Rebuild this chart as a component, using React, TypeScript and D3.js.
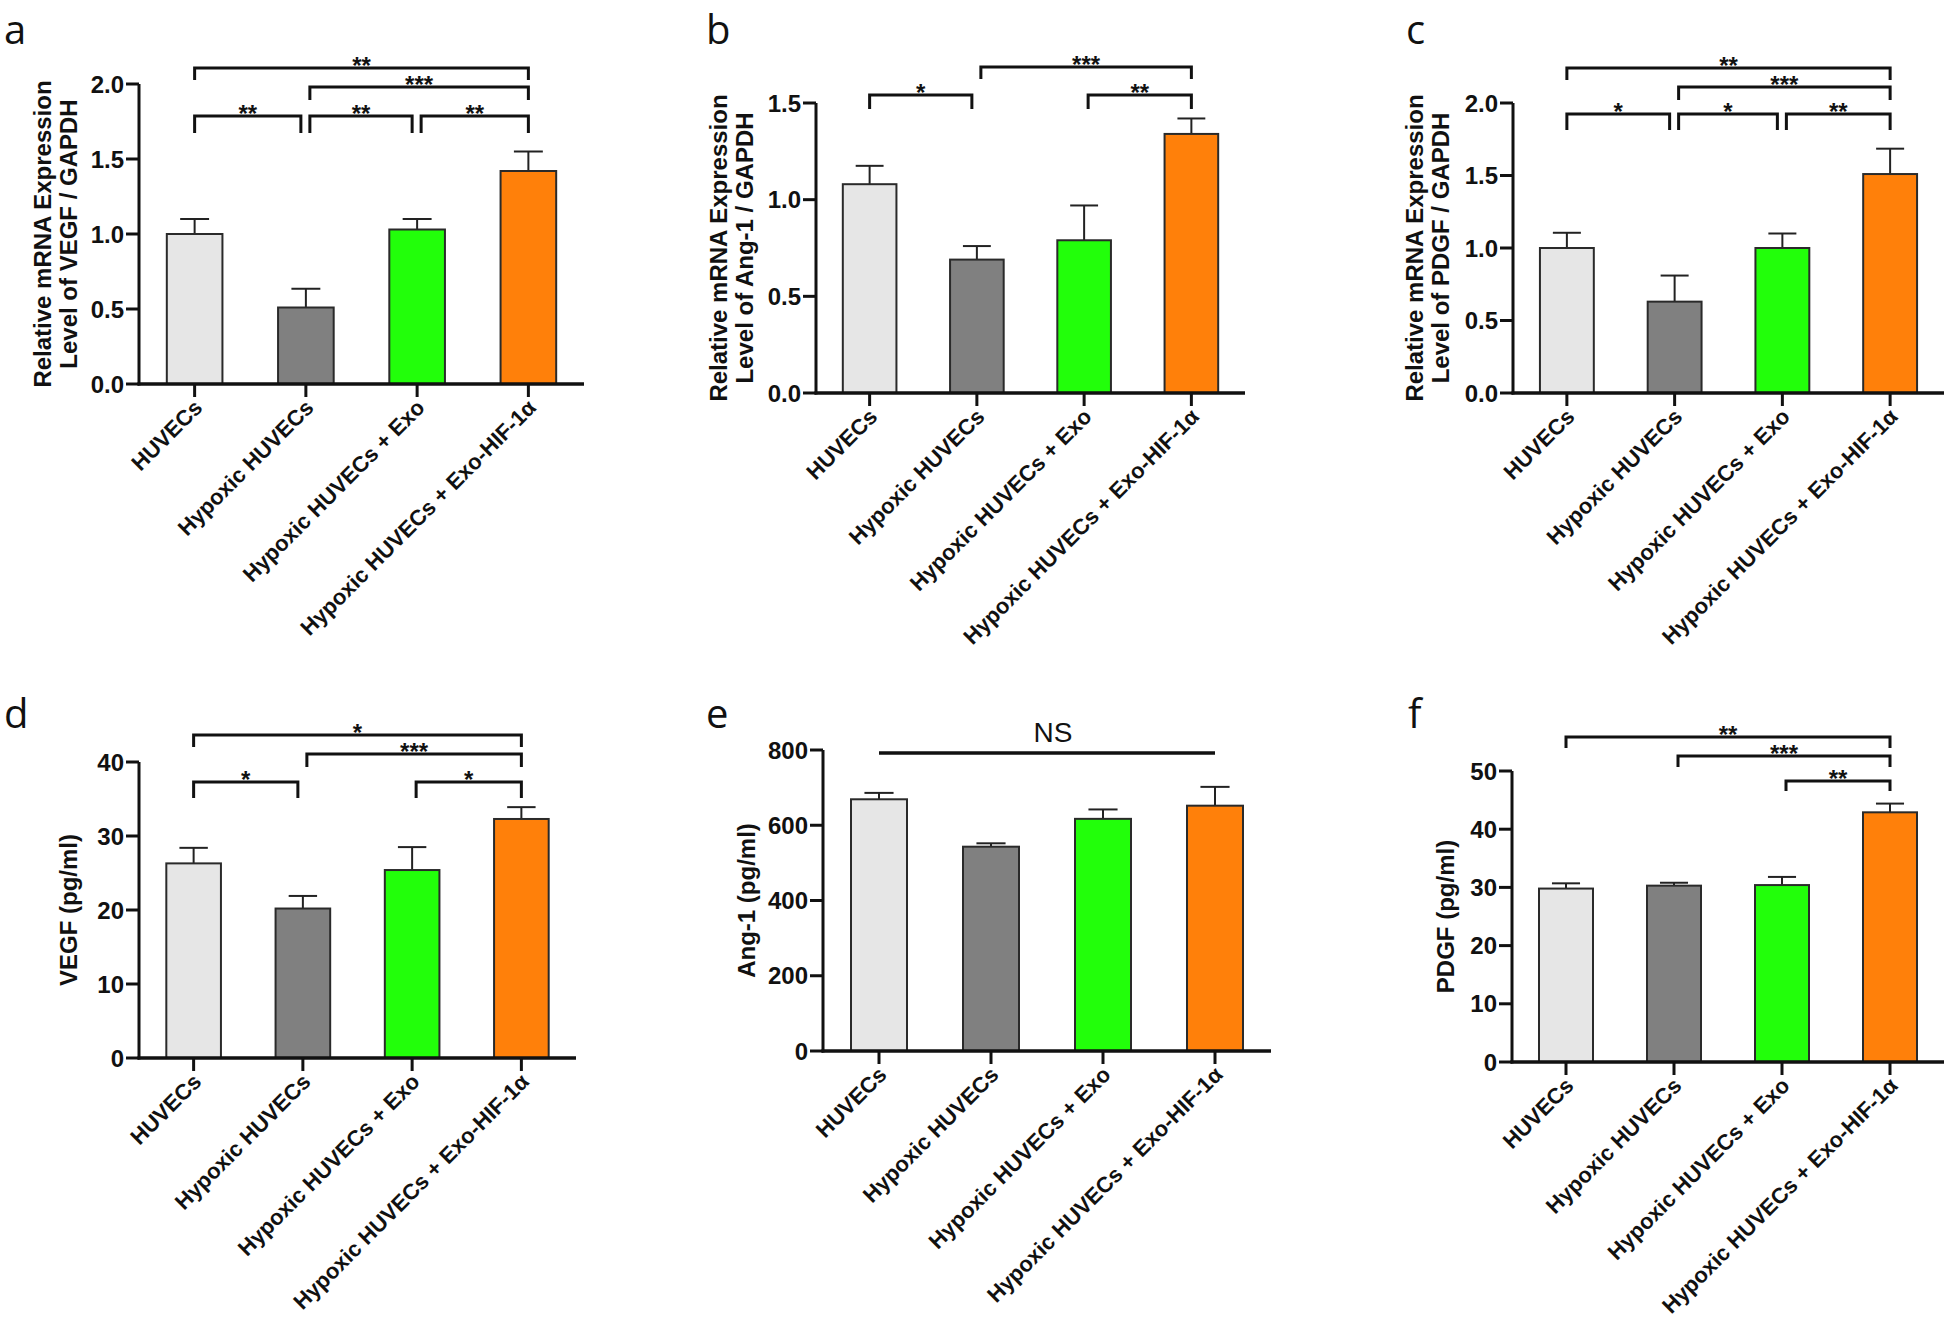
import React from "react";
import * as d3 from "d3";

// ---------- data ----------
const categories = [
  "HUVECs",
  "Hypoxic HUVECs",
  "Hypoxic HUVECs + Exo",
  "Hypoxic HUVECs + Exo-HIF-1α",
];
const barColors = ["#e6e6e6", "#808080", "#22ff0a", "#ff800a"];

// a: VEGF mRNA
const vegfMrnaMean = [1.0, 0.51, 1.03, 1.42];
const vegfMrnaErr = [0.1, 0.125, 0.07, 0.13];
const vegfMrnaTicks = [0, 0.5, 1.0, 1.5, 2.0];
// b: Ang-1 mRNA
const ang1MrnaMean = [1.08, 0.69, 0.79, 1.34];
const ang1MrnaErr = [0.095, 0.07, 0.18, 0.08];
const ang1MrnaTicks = [0, 0.5, 1.0, 1.5];
// c: PDGF mRNA
const pdgfMrnaMean = [1.0, 0.63, 1.0, 1.51];
const pdgfMrnaErr = [0.105, 0.18, 0.1, 0.175];
const pdgfMrnaTicks = [0, 0.5, 1.0, 1.5, 2.0];
// d: VEGF ELISA
const vegfElisaMean = [26.3, 20.2, 25.4, 32.3];
const vegfElisaErr = [2.1, 1.7, 3.1, 1.6];
const vegfElisaTicks = [0, 10, 20, 30, 40];
// e: Ang-1 ELISA
const ang1ElisaMean = [669, 543, 617, 652];
const ang1ElisaErr = [17, 9, 25, 50];
const ang1ElisaTicks = [0, 200, 400, 600, 800];
// f: PDGF ELISA
const pdgfElisaMean = [29.8, 30.3, 30.4, 42.9];
const pdgfElisaErr = [0.9, 0.5, 1.4, 1.5];
const pdgfElisaTicks = [0, 10, 20, 30, 40, 50];

// significance comparisons: [from, to, label]
const sigA: [number, number, string][] = [[0, 3, "**"], [1, 3, "***"], [0, 1, "**"], [1, 2, "**"], [2, 3, "**"]];
const sigB: [number, number, string][] = [[0, 1, "*"], [1, 3, "***"], [2, 3, "**"]];
const sigC: [number, number, string][] = [[0, 3, "**"], [1, 3, "***"], [0, 1, "*"], [1, 2, "*"], [2, 3, "**"]];
const sigD: [number, number, string][] = [[0, 3, "*"], [1, 3, "***"], [0, 1, "*"], [2, 3, "*"]];
const sigE: [number, number, string][] = [[0, 3, "NS"]];
const sigF: [number, number, string][] = [[0, 3, "**"], [1, 3, "***"], [2, 3, "**"]];

// ---------- layout ----------
type Layout = {
  letter: string; letterX: number; letterY: number;
  axisX: number; xEnd: number; yTop: number; yBottom: number;
  yLabel: string[]; yLabelX: number[];
  tickFmt: (v: number) => string;
  bracketY: number[]; bracketDrop: number[];
  plain?: boolean;
};

const fmt1 = (v: number) => d3.format(".1f")(v);
const fmt0 = (v: number) => d3.format("d")(v);

const panels: { mean: number[]; err: number[]; ticks: number[]; sig: [number, number, string][]; L: Layout }[] = [
  {
    mean: vegfMrnaMean, err: vegfMrnaErr, ticks: vegfMrnaTicks, sig: sigA,
    L: { letter: "a", letterX: 4, letterY: 44, axisX: 139, xEnd: 584, yTop: 84, yBottom: 384,
      yLabel: ["Relative mRNA Expression", "Level of VEGF / GAPDH"], yLabelX: [-88, -62], tickFmt: fmt1,
      bracketY: [68, 87, 116, 116, 116], bracketDrop: [12, 13, 17, 17, 17] },
  },
  {
    mean: ang1MrnaMean, err: ang1MrnaErr, ticks: ang1MrnaTicks, sig: sigB,
    L: { letter: "b", letterX: 706, letterY: 44, axisX: 816, xEnd: 1245, yTop: 103, yBottom: 393,
      yLabel: ["Relative mRNA Expression", "Level of Ang-1 / GAPDH"], yLabelX: [-89, -63], tickFmt: fmt1,
      bracketY: [95, 67, 95], bracketDrop: [14, 12, 14] },
  },
  {
    mean: pdgfMrnaMean, err: pdgfMrnaErr, ticks: pdgfMrnaTicks, sig: sigC,
    L: { letter: "c", letterX: 1406, letterY: 44, axisX: 1513, xEnd: 1944, yTop: 103, yBottom: 393,
      yLabel: ["Relative mRNA Expression", "Level of PDGF / GAPDH"], yLabelX: [-90, -64], tickFmt: fmt1,
      bracketY: [68, 87, 114, 114, 114], bracketDrop: [12, 13, 16, 16, 16] },
  },
  {
    mean: vegfElisaMean, err: vegfElisaErr, ticks: vegfElisaTicks, sig: sigD,
    L: { letter: "d", letterX: 4, letterY: 728, axisX: 139, xEnd: 576, yTop: 762, yBottom: 1058,
      yLabel: ["VEGF (pg/ml)"], yLabelX: [-62], tickFmt: fmt0,
      bracketY: [735, 754, 782, 782], bracketDrop: [12, 13, 16, 16] },
  },
  {
    mean: ang1ElisaMean, err: ang1ElisaErr, ticks: ang1ElisaTicks, sig: sigE,
    L: { letter: "e", letterX: 706, letterY: 728, axisX: 823, xEnd: 1271, yTop: 750, yBottom: 1051,
      yLabel: ["Ang-1 (pg/ml)"], yLabelX: [-68], tickFmt: fmt0,
      bracketY: [753], bracketDrop: [0], plain: true },
  },
  {
    mean: pdgfElisaMean, err: pdgfElisaErr, ticks: pdgfElisaTicks, sig: sigF,
    L: { letter: "f", letterX: 1408, letterY: 728, axisX: 1512, xEnd: 1944, yTop: 771, yBottom: 1062,
      yLabel: ["PDGF (pg/ml)"], yLabelX: [-58], tickFmt: fmt0,
      bracketY: [737, 756, 781], bracketDrop: [11, 11, 10] },
  },
];

const FONT = "'Liberation Sans', Arial, Helvetica, sans-serif";
const INK = "#111";

function Panel({ mean, err, ticks, sig, L }: (typeof panels)[number]) {
  const x = d3.scaleBand<string>().domain(categories).range([L.axisX, L.xEnd]).paddingInner(0.5).paddingOuter(0.25);
  const y = d3.scaleLinear().domain([0, ticks[ticks.length - 1]]).range([L.yBottom, L.yTop]);
  const bw = x.bandwidth();
  const cx = (i: number) => (x(categories[i]) as number) + bw / 2;
  const capW = bw * 0.52;
  const last = categories.length - 1;
  const yMid = (L.yTop + L.yBottom) / 2;

  return (
    <g>
      <text x={L.letterX} y={L.letterY} fontFamily="'Open Sans', 'Noto Sans', sans-serif" fontSize={40} fill="#111">
        {L.letter}
      </text>

      {/* y label */}
      {L.yLabel.map((t, k) => (
        <text key={k} transform={`translate(${L.axisX + L.yLabelX[k]},${yMid}) rotate(-90)`} textAnchor="middle"
          fontFamily={FONT} fontWeight="bold" fontSize={24} fill={INK}>{t}</text>
      ))}

      {/* bars */}
      {mean.map((m, i) => (
        <g key={i}>
          <line x1={cx(i)} x2={cx(i)} y1={y(m)} y2={y(m + err[i])} stroke="#222" strokeWidth={2} />
          <line x1={cx(i) - capW / 2} x2={cx(i) + capW / 2} y1={y(m + err[i])} y2={y(m + err[i])} stroke="#222" strokeWidth={2} />
          <rect x={x(categories[i])} y={y(m)} width={bw} height={y(0) - y(m)} fill={barColors[i]} stroke="#2a2a2a" strokeWidth={2} />
        </g>
      ))}

      {/* y axis */}
      <line x1={L.axisX} x2={L.axisX} y1={L.yBottom + 1.5} y2={L.yTop} stroke={INK} strokeWidth={3} />
      {ticks.map((t, k) => (
        <g key={k}>
          <line x1={L.axisX - 13} x2={L.axisX} y1={y(t)} y2={y(t)} stroke={INK} strokeWidth={3} />
          <text x={L.axisX - 15} y={y(t)} dy="0.36em" textAnchor="end" fontFamily={FONT} fontWeight="bold" fontSize={24} fill={INK}>
            {L.tickFmt(t)}
          </text>
        </g>
      ))}

      {/* x axis */}
      <line x1={L.axisX - 1.5} x2={L.xEnd} y1={L.yBottom} y2={L.yBottom} stroke={INK} strokeWidth={3.5} />
      {categories.map((c, i) => (
        <g key={c}>
          <line x1={cx(i)} x2={cx(i)} y1={L.yBottom} y2={L.yBottom + 13} stroke={INK} strokeWidth={3} />
          <text transform={`translate(${cx(i) + 9},${L.yBottom + 25}) rotate(-45)`} textAnchor="end"
            fontFamily={FONT} fontWeight="bold" fontSize={22} fill={INK}>{c}</text>
        </g>
      ))}

      {/* significance */}
      {sig.map(([a, b, lab], k) => {
        const yb = L.bracketY[k];
        if (L.plain) {
          const x1 = cx(a), x2 = cx(b);
          return (
            <g key={k}>
              <line x1={x1} x2={x2} y1={yb} y2={yb} stroke={INK} strokeWidth={3.5} />
              <text x={(x1 + x2) / 2 + 6} y={yb - 11} textAnchor="middle" fontFamily="'Liberation Sans Narrow', 'Liberation Sans', Arial, sans-serif"
                fontSize={28} fill={INK}>{lab}</text>
            </g>
          );
        }
        const x1 = cx(a) + (a > 0 ? 4 : 0);
        const x2 = cx(b) - (b < last ? 5 : 0);
        const drop = L.bracketDrop[k];
        return (
          <g key={k}>
            <path d={`M${x1},${yb + drop}V${yb}H${x2}V${yb + drop}`} fill="none" stroke={INK} strokeWidth={3} />
            <text x={(x1 + x2) / 2} y={yb + 6} textAnchor="middle" fontFamily={FONT} fontWeight="bold" fontSize={24} fill={INK}>{lab}</text>
          </g>
        );
      })}
    </g>
  );
}

export default function App() {
  return (
    <svg width={1946} height={1322} style={{ position: "absolute", left: 0, top: 0, background: "#fff" }}>
      <rect width={1946} height={1322} fill="#fff" />
      {panels.map((p, i) => (
        <Panel key={i} {...p} />
      ))}
    </svg>
  );
}
